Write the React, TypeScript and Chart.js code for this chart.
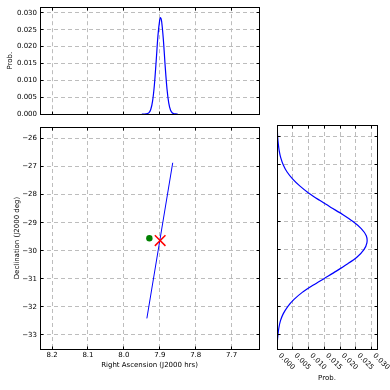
import React, { useEffect, useRef } from "react";
import { Chart, registerables } from "chart.js";

Chart.register(...registerables);

// ---------- data ----------
// Marginal probability in Right Ascension (top panel)
const raValues = [7.85, 7.855, 7.86, 7.865, 7.87, 7.875, 7.88, 7.885, 7.89, 7.895, 7.898, 7.9, 7.905, 7.91, 7.915, 7.92, 7.925, 7.93, 7.935, 7.94, 7.945, 7.95];
const raProb = [0.0, 0.00001, 0.00007, 0.0003, 0.0011, 0.0032, 0.0075, 0.0142, 0.022, 0.0276, 0.0286, 0.0281, 0.0234, 0.0158, 0.0087, 0.0039, 0.0014, 0.0004, 0.0001, 0.00001, 0.0, 0.0];

// Marginal probability in Declination (right panel)
const decValues = [-25.5, -25.75, -26, -26.25, -26.5, -26.75, -27, -27.25, -27.5, -27.75, -28, -28.25, -28.5, -28.75, -29, -29.25, -29.5, -29.75, -30, -30.25, -30.5, -30.75, -31, -31.25, -31.5, -31.75, -32, -32.25, -32.5, -32.75, -33, -33.25, -33.5];
const decProb = [0.0, 0.0001, 0.0002, 0.0004, 0.0007, 0.0012, 0.002, 0.0032, 0.005, 0.0073, 0.0101, 0.0135, 0.0171, 0.0208, 0.0241, 0.0267, 0.0283, 0.0285, 0.0275, 0.0254, 0.0223, 0.0188, 0.0151, 0.0114, 0.008, 0.0054, 0.0034, 0.002, 0.0011, 0.0006, 0.0003, 0.0001, 0.0];

// Track segment in the main panel
const trackRA = [7.864, 7.936];
const trackDec = [-26.864, -32.41];

// Source position (green dot) and best-fit position (red cross)
const sourceRA = [7.929];
const sourceDec = [-29.555];
const bestRA = [7.899];
const bestDec = [-29.637];

// Axis limits and tick steps
const RA_LIMITS = [7.6238, 8.2335];
const DEC_LIMITS = [-33.5, -25.59];
const PROB_LIMITS = [0, 0.0317];
const RA_STEP = 0.1;
const DEC_STEP = 1;
const PROB_STEP = 0.005;

// ---------- styling ----------
const FONT = "'DejaVu Sans', 'Liberation Sans', sans-serif";
const FONT_SIZE = 7;
const GRID = "#bdbdbd";
const DASH = [4, 3];
const BLUE = "#0000ff";

const font = { family: FONT, size: FONT_SIZE };

const al = (p: number) => Math.round(p - 0.5) + 0.5;

const framePlugin = {
  id: "frame",
  afterDatasetsDraw(chart: any) {
    const { ctx, chartArea: a, scales } = chart;
    const L = al(a.left), R = al(a.right), T = al(a.top), B = al(a.bottom);
    ctx.save();
    ctx.strokeStyle = "#000";
    ctx.lineWidth = 1;
    ctx.setLineDash([]);
    ctx.beginPath();
    const tl = 3;
    const xs = scales.x, ys = scales.y;
    xs.ticks.forEach((t: any) => {
      const px = al(xs.getPixelForValue(t.value));
      if (px <= L + 1 || px >= R - 1) return;
      ctx.moveTo(px, B); ctx.lineTo(px, B - tl);
      ctx.moveTo(px, T); ctx.lineTo(px, T + tl);
    });
    ys.ticks.forEach((t: any) => {
      const py = al(ys.getPixelForValue(t.value));
      if (py <= T + 1 || py >= B - 1) return;
      ctx.moveTo(L, py); ctx.lineTo(L + tl, py);
      ctx.moveTo(R, py); ctx.lineTo(R - tl, py);
    });
    ctx.stroke();
    ctx.strokeRect(L, T, R - L, B - T);
    ctx.restore();
  },
};

const rotatedLabelsPlugin = {
  id: "rotatedLabels",
  afterDraw(chart: any) {
    const { ctx, chartArea: a, scales } = chart;
    const xs = scales.x;
    ctx.save();
    ctx.font = `${FONT_SIZE}px ${FONT}`;
    ctx.fillStyle = "#000";
    ctx.textAlign = "left";
    ctx.textBaseline = "middle";
    xs.ticks.forEach((t: any) => {
      const px = xs.getPixelForValue(t.value);
      ctx.save();
      ctx.translate(px + 2.5, a.bottom + 5.5);
      ctx.rotate(Math.PI / 4);
      ctx.fillText(t.value.toFixed(3), 0, 0);
      ctx.restore();
    });
    ctx.restore();
  },
};

const baseOptions = {
  responsive: false,
  animation: false as const,
  events: [] as any[],
  plugins: { legend: { display: false }, tooltip: { enabled: false } },
};

const gridOpts = { color: GRID, lineWidth: 1, drawTicks: false };
const borderOpts = { display: false, dash: DASH };

function topConfig(): any {
  return {
    type: "scatter",
    data: {
      datasets: [
        {
          data: raValues.map((x, i) => ({ x, y: raProb[i] })),
          showLine: true,
          borderColor: BLUE,
          borderWidth: 1.2,
          pointRadius: 0,
          tension: 0.3,
        },
      ],
    },
    options: {
      ...baseOptions,
      layout: { padding: { top: 7, right: 11, left: 0, bottom: 0 } },
      scales: {
        x: {
          type: "linear",
          min: RA_LIMITS[0],
          max: RA_LIMITS[1],
          reverse: true,
          grid: gridOpts,
          border: borderOpts,
          ticks: { display: false, stepSize: RA_STEP, includeBounds: false },
          afterFit: (s: any) => { s.height = 11; },
        },
        y: {
          type: "linear",
          min: PROB_LIMITS[0],
          max: PROB_LIMITS[1],
          grid: gridOpts,
          border: borderOpts,
          ticks: {
            stepSize: PROB_STEP,
            includeBounds: false,
            font,
            color: "#000",
            padding: 3,
            callback: (v: any) => Number(v).toFixed(3),
          },
          title: { display: true, text: "Prob.", font, color: "#000", padding: { top: 6.3, bottom: 0 } },
          afterFit: (s: any) => { s.width = 40; },
        },
      },
    },
    plugins: [framePlugin],
  };
}

function mainConfig(): any {
  return {
    type: "scatter",
    data: {
      datasets: [
        {
          data: bestRA.map((x, i) => ({ x, y: bestDec[i] })),
          pointStyle: "crossRot",
          pointRadius: 7.5,
          borderColor: "#ff0000",
          borderWidth: 1.5,
          backgroundColor: "#ff0000",
          order: 1,
        },
        {
          data: sourceRA.map((x, i) => ({ x, y: sourceDec[i] })),
          pointStyle: "circle",
          pointRadius: 3.2,
          borderWidth: 0,
          backgroundColor: "#008000",
          borderColor: "#008000",
          order: 2,
        },
        {
          data: trackRA.map((x, i) => ({ x, y: trackDec[i] })),
          showLine: true,
          borderColor: BLUE,
          borderWidth: 1,
          pointRadius: 0,
          order: 3,
        },
      ],
    },
    options: {
      ...baseOptions,
      layout: { padding: { top: 7, right: 11, left: 0, bottom: 0 } },
      scales: {
        x: {
          type: "linear",
          min: RA_LIMITS[0],
          max: RA_LIMITS[1],
          reverse: true,
          grid: gridOpts,
          border: borderOpts,
          ticks: {
            stepSize: RA_STEP,
            includeBounds: false,
            font,
            color: "#000",
            padding: 2,
            maxRotation: 0,
            autoSkip: false,
            callback: (v: any) => Number(v).toFixed(1),
          },
          title: { display: true, text: "Right Ascension (J2000 hrs)", font, color: "#000", padding: { top: 0, bottom: 20.3 } },
          afterFit: (s: any) => { s.height = 41; },
        },
        y: {
          type: "linear",
          min: DEC_LIMITS[0],
          max: DEC_LIMITS[1],
          grid: gridOpts,
          border: borderOpts,
          ticks: {
            stepSize: DEC_STEP,
            includeBounds: false,
            font,
            color: "#000",
            padding: 3,
            callback: (v: any) => {
              const n = Math.round(Number(v));
              return n < 0 ? "\u2212" + Math.abs(n) : String(n);
            },
          },
          title: { display: true, text: "Declination (J2000 deg)", font, color: "#000", padding: { top: 12.5, bottom: 0 } },
          afterFit: (s: any) => { s.width = 40; },
        },
      },
    },
    plugins: [framePlugin],
  };
}

function rightConfig(): any {
  return {
    type: "scatter",
    data: {
      datasets: [
        {
          data: decValues.map((y, i) => ({ x: decProb[i], y })),
          showLine: true,
          borderColor: BLUE,
          borderWidth: 1.2,
          pointRadius: 0,
          tension: 0.3,
        },
      ],
    },
    options: {
      ...baseOptions,
      layout: { padding: { top: 7, right: 13, left: 11, bottom: 0 } },
      scales: {
        x: {
          type: "linear",
          min: PROB_LIMITS[0],
          max: PROB_LIMITS[1],
          grid: gridOpts,
          border: borderOpts,
          ticks: { display: false, stepSize: PROB_STEP, includeBounds: false },
          title: { display: true, text: "Prob.", font, color: "#000", padding: { top: 0, bottom: 7.8 } },
          afterFit: (s: any) => { s.height = 41; },
        },
        y: {
          type: "linear",
          min: DEC_LIMITS[0],
          max: DEC_LIMITS[1],
          grid: gridOpts,
          border: borderOpts,
          ticks: { display: false, stepSize: DEC_STEP, includeBounds: false },
          afterFit: (s: any) => { s.width = 0; },
        },
      },
    },
    plugins: [framePlugin, rotatedLabelsPlugin],
  };
}

export default function App() {
  const topRef = useRef<HTMLCanvasElement>(null);
  const mainRef = useRef<HTMLCanvasElement>(null);
  const rightRef = useRef<HTMLCanvasElement>(null);

  useEffect(() => {
    const charts = [
      new Chart(topRef.current as HTMLCanvasElement, topConfig()),
      new Chart(mainRef.current as HTMLCanvasElement, mainConfig()),
      new Chart(rightRef.current as HTMLCanvasElement, rightConfig()),
    ];
    return () => charts.forEach((c) => c.destroy());
  }, []);

  return (
    <div style={{ position: "fixed", left: 0, top: 0, width: 390, height: 390, background: "#fff" }}>
      <canvas ref={topRef} width={270} height={125} style={{ position: "absolute", left: 0, top: 0, width: 270, height: 125 }} />
      <canvas ref={mainRef} width={270} height={272} style={{ position: "absolute", left: 0, top: 118, width: 270, height: 272 }} />
      <canvas ref={rightRef} width={124} height={272} style={{ position: "absolute", left: 266, top: 118, width: 124, height: 272 }} />
    </div>
  );
}
